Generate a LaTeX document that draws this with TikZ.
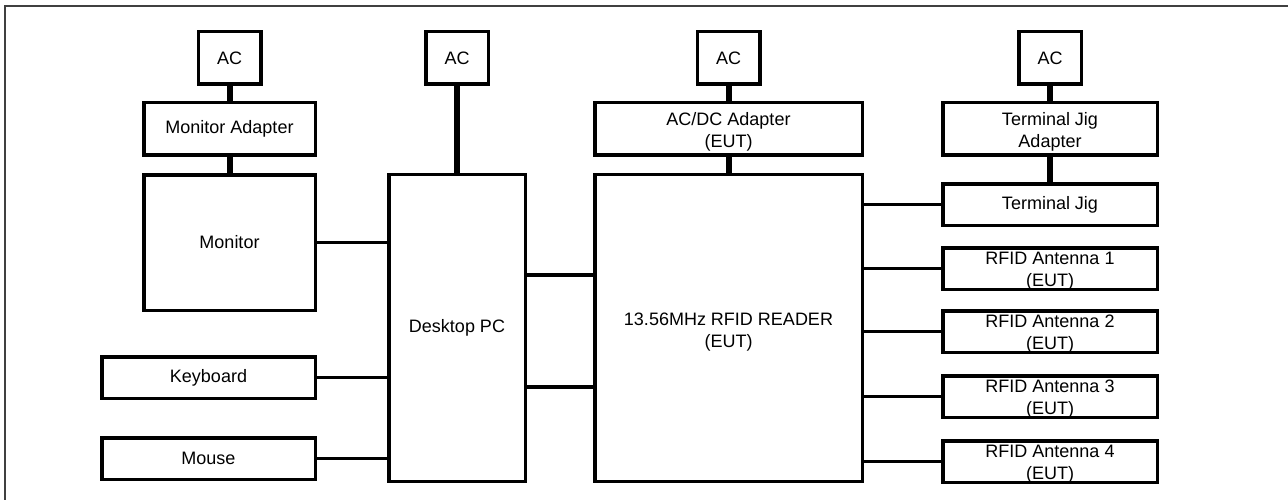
\documentclass[tikz,border=0pt]{standalone}
\usepackage{fontspec}
\setmainfont{Liberation Sans}
\usepackage{tikz}
\usetikzlibrary{positioning}

\begin{document}
\begin{tikzpicture}[
  box/.style={rectangle, draw=black, line width=3.5pt, fill=white, align=center, inner sep=1pt, font=\fontsize{18}{22}\selectfont},
  acbox/.style={box, minimum width=62.5pt, minimum height=52.5pt},
  adapt/.style={box, minimum height=52.5pt},
  twoline/.style={text height=40pt, text depth=2pt},
  small/.style={box, minimum width=214.5pt, minimum height=41.5pt},
  antenna/.style={small, inner sep=0pt, text height=36pt, text depth=1pt},
  link/.style={line width=3.5pt, draw=black},
  stub/.style={line width=6pt, draw=black},
  frame/.style={line width=1.5pt, draw=black!75},
]
\useasboundingbox (0,0) rectangle (1288pt,-500pt);

% Outer frame
\draw[frame] (1288pt,-6pt) -- (5pt,-6pt) -- (5pt,-500pt);

% Monitor column
\node[acbox] (ac1) at (229.5pt,-58pt) {AC};
\node[adapt, minimum width=171.5pt, below=15pt of ac1] (madapt) {Monitor Adapter};
\node[box, minimum width=171.5pt, minimum height=135.5pt, below=16pt of madapt] (monitor) {Monitor};
\node[box, minimum width=213.5pt, minimum height=41.5pt, below=43pt of monitor.south east, anchor=north east] (keyboard) {Keyboard};
\node[box, minimum width=213.5pt, minimum height=41.5pt, below=36pt of keyboard.south east, anchor=north east] (mouse) {Mouse};

% Desktop PC
\node[box, minimum width=136.5pt, minimum height=306.5pt, right=70pt of monitor.north east, anchor=north west] (pc) {Desktop PC};
\node[acbox, above=87pt of pc] (ac2) {AC};

% RFID reader
\node[box, twoline, minimum width=267.5pt, minimum height=306.5pt, right=66pt of pc] (reader) {13.56MHz RFID READER\\(EUT)};
\node[adapt, twoline, minimum width=267.5pt, above=16pt of reader] (acdc) {AC/DC Adapter\\(EUT)};
\node[acbox, above=15pt of acdc] (ac3) {AC};

% Terminal jig and antennas
\node[small, right=77pt of reader.north east, anchor=north west, yshift=-9pt] (tjig) {Terminal Jig};
\node[adapt, twoline, minimum width=214.5pt, above=25pt of tjig] (tjadapt) {Terminal Jig\\Adapter};
\node[acbox, above=15pt of tjadapt] (ac4) {AC};
\node[antenna, below=19pt of tjig] (ant1) {RFID Antenna 1\\(EUT)};
\node[antenna, below=18pt of ant1] (ant2) {RFID Antenna 2\\(EUT)};
\node[antenna, below=20pt of ant2] (ant3) {RFID Antenna 3\\(EUT)};
\node[antenna, below=20pt of ant3] (ant4) {RFID Antenna 4\\(EUT)};

% Power lines
\draw[stub] (ac1) -- (madapt);
\draw[stub] (madapt) -- (monitor);
\draw[stub] (ac2) -- (pc);
\draw[stub] (ac3) -- (acdc);
\draw[stub] (acdc) -- (reader);
\draw[stub] (ac4) -- (tjadapt);
\draw[stub] (tjadapt) -- (tjig);

% Cables
\draw[link] (monitor.east) -- (monitor.east -| pc.west);
\draw[link] (keyboard.east) -- (keyboard.east -| pc.west);
\draw[link] (mouse.east) -- (mouse.east -| pc.west);
\draw[link] ([yshift=53pt]pc.east) -- ([yshift=53pt]reader.west);
\draw[link] ([yshift=-59pt]pc.east) -- ([yshift=-59pt]reader.west);
\draw[link] (tjig.west -| reader.east) -- (tjig.west);
\draw[link] (ant1.west -| reader.east) -- (ant1.west);
\draw[link] (ant2.west -| reader.east) -- (ant2.west);
\draw[link] (ant3.west -| reader.east) -- (ant3.west);
\draw[link] (ant4.west -| reader.east) -- (ant4.west);

\end{tikzpicture}
\end{document}
